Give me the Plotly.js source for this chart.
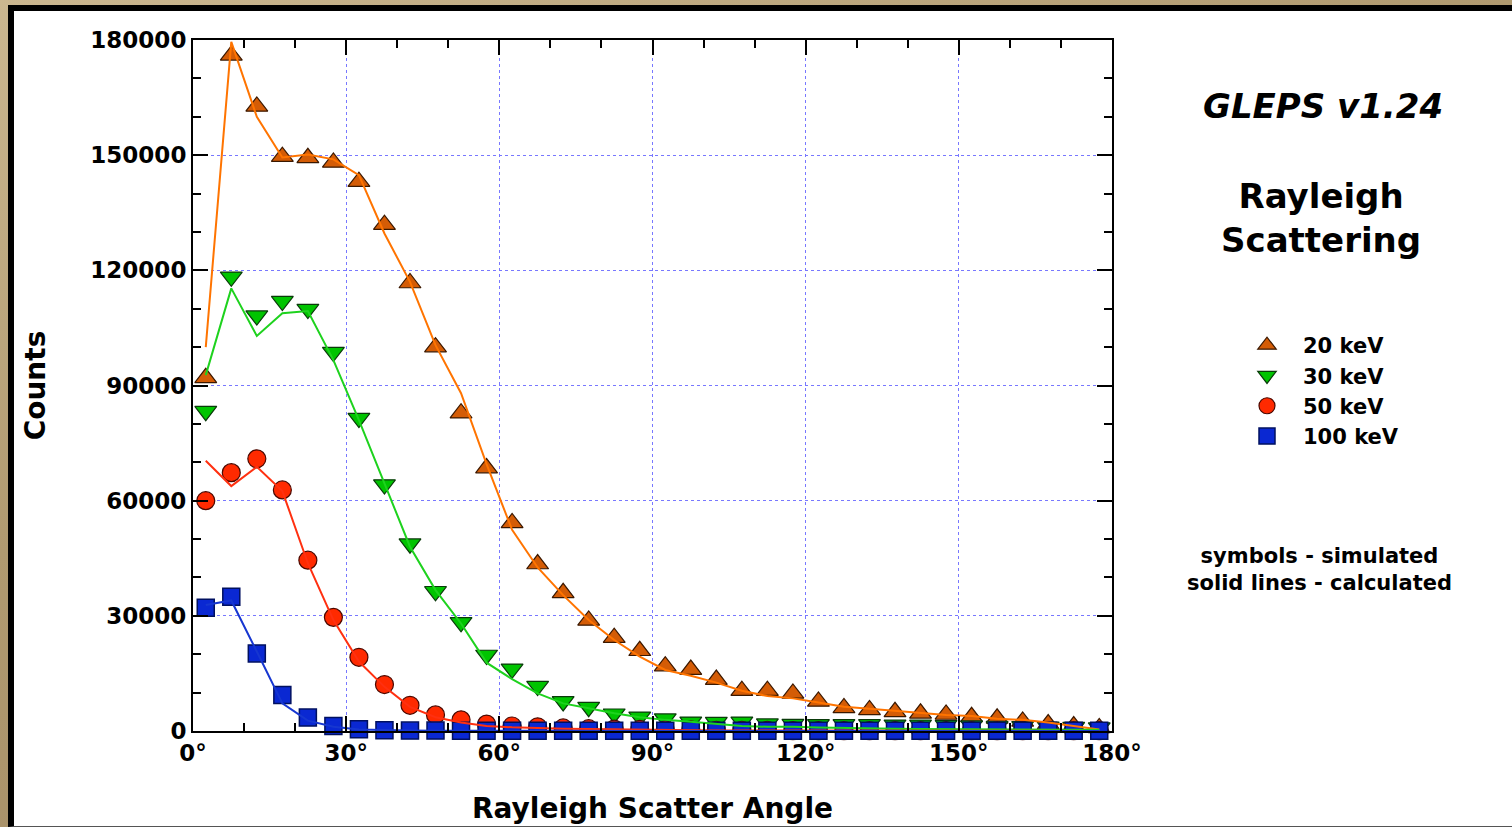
<!DOCTYPE html>
<html>
<head>
<meta charset="utf-8">
<script src="https://cdn.plot.ly/plotly-3.0.1.min.js"></script>
<style>
  html, body { margin: 0; padding: 0; width: 1512px; height: 827px; overflow: hidden;
    background: linear-gradient(160deg, #cbb790 0%, #b09a70 40%, #a08660 100%); }
  #frame { position: absolute; left: 8px; top: 5px; width: 1498px; height: 815px;
    border-left: 6px solid #000; border-top: 6px solid #000; border-bottom: 1px solid #555;
    background: #fff; }
  #chart { position: absolute; left: 0; top: 0; width: 1512px; height: 827px; }
</style>
</head>
<body>
<div id="frame"></div>
<div id="chart"></div>
<script>
// ---- data ----
const angles = [2.5, 7.5, 12.5, 17.5, 22.5, 27.5, 32.5, 37.5, 42.5, 47.5, 52.5, 57.5,
  62.5, 67.5, 72.5, 77.5, 82.5, 87.5, 92.5, 97.5, 102.5, 107.5, 112.5, 117.5,
  122.5, 127.5, 132.5, 137.5, 142.5, 147.5, 152.5, 157.5, 162.5, 167.5, 172.5, 177.5];

const sim20 = [92000, 176000, 162700, 149600, 149300, 148100, 143100, 131900, 116700, 100000, 82800, 68500,
  54200, 43500, 36000, 28800, 24300, 20900, 16900, 16000, 13400, 10500, 10500, 9800,
  7700, 6000, 5500, 5000, 4600, 4300, 3700, 3300, 2500, 1800, 1300, 800];
const calc20 = [100000, 179500, 160000, 149400, 150200, 148900, 144800, 129600, 117000, 100500, 88000, 69500,
  52400, 42600, 35400, 28900, 23700, 19400, 15900, 14400, 12600, 10500, 9100, 8500,
  7400, 6300, 5800, 5300, 4800, 4200, 3900, 3200, 2900, 2200, 1300, 400];

const sim30 = [83300, 118300, 108200, 112000, 109900, 98700, 81500, 64200, 48800, 36400, 28300, 19800,
  16200, 11700, 7700, 6200, 4500, 3700, 3200, 2400, 2300, 2400, 1900, 1800,
  1700, 1700, 1700, 1600, 1600, 1500, 1400, 1300, 1200, 1100, 1000, 900];
const calc30 = [92700, 115300, 102900, 108800, 109400, 96600, 81000, 64600, 48000, 36700, 28000, 17800,
  13500, 9800, 7200, 5900, 4600, 3600, 2900, 2400, 1800, 1300, 1100, 1100,
  900, 850, 700, 600, 500, 500, 500, 500, 450, 400, 350, 300];

const sim50 = [60000, 67300, 70900, 62800, 44500, 29600, 19200, 12100, 6700, 4200, 2900, 1800,
  1300, 1100, 800, 600, 500, 400, 300, 300, 200, 200, 200, 100,
  100, 100, 100, 100, 100, 100, 100, 100, 100, 100, 100, 100];
const calc50 = [70400, 63800, 68800, 62500, 43700, 28900, 18100, 11500, 6300, 3600, 2200, 1300,
  960, 700, 600, 500, 400, 300, 250, 200, 150, 120, 100, 80,
  60, 50, 40, 30, 30, 20, 20, 20, 20, 10, 10, 10];

const sim100 = [32100, 35000, 20200, 9400, 3500, 1300, 440, 200, 100, 100, 80, 60,
  50, 50, 50, 50, 50, 50, 50, 50, 50, 50, 50, 50,
  50, 50, 50, 50, 50, 50, 50, 50, 50, 50, 50, 50];
const calc100 = [32800, 34000, 20700, 7200, 2700, 1100, 400, 200, 100, 80, 60, 40,
  30, 20, 20, 10, 10, 10, 10, 10, 10, 10, 10, 10,
  10, 10, 10, 10, 10, 10, 10, 10, 10, 10, 10, 10];

const seriesNames = ['20 keV', '30 keV', '50 keV', '100 keV'];
const xTickSuffix = '°';

// ---- styling ----
const FONT = 'DejaVu Sans, Verdana, sans-serif';
const plotL = 193, plotR = 1112, plotT = 40, plotB = 731, W = 1512, H = 827;
const px = v => (v - plotL) / (plotR - plotL);
const py = v => (plotB - v) / (plotB - plotT);

const markerStyles = [
  {symbol: 'triangle-up', size: 19, color: '#d45c06', line: {color: '#3a1800', width: 1.2}},
  {symbol: 'triangle-down', size: 19, color: '#00c400', line: {color: '#0a3a0a', width: 1.2}},
  {symbol: 'circle', size: 18, color: '#ff2a00', line: {color: '#4a0800', width: 1.2}},
  {symbol: 'square', size: 17, color: '#0a28d2', line: {color: '#001060', width: 1.5}}
];
const lineColors = ['#ff7400', '#1ed21e', '#ff3010', '#1636d0'];

const simSets = [sim20, sim30, sim50, sim100];
const calcSets = [calc20, calc30, calc50, calc100];

const traces = [];
simSets.forEach((ys, i) => traces.push({
  x: angles, y: ys, type: 'scatter', mode: 'markers', name: seriesNames[i],
  marker: markerStyles[i], showlegend: true, cliponaxis: false
}));
calcSets.forEach((ys, i) => traces.push({
  x: angles, y: ys, type: 'scatter', mode: 'lines', name: seriesNames[i] + ' calc',
  line: {color: lineColors[i], width: 2}, showlegend: false
}));

const axisCommon = {
  showline: true, linecolor: '#000', linewidth: 2, mirror: 'allticks',
  ticks: 'inside', ticklen: 15, tickwidth: 2, tickcolor: '#000',
  showgrid: true, gridcolor: '#7878ff', griddash: 'dot', gridwidth: 1,
  zeroline: false,
  tickfont: {family: FONT, size: 23, color: '#000', weight: 'bold'}
};

const layout = {
  width: W, height: H,
  paper_bgcolor: 'rgba(0,0,0,0)', plot_bgcolor: '#fff',
  margin: {l: plotL, r: W - plotR, t: plotT, b: H - plotB, pad: 0},
  xaxis: Object.assign({}, axisCommon, {
    range: [0, 180], tick0: 0, dtick: 30, ticksuffix: xTickSuffix,
    minor: {tick0: 0, dtick: 10, ticks: 'inside', ticklen: 8, tickwidth: 1.5, tickcolor: '#000', showgrid: false},
    title: {text: 'Rayleigh Scatter Angle', font: {family: FONT, size: 28, color: '#000', weight: 'bold'}, standoff: 34}
  }),
  yaxis: Object.assign({}, axisCommon, {
    range: [0, 180000], tick0: 0, dtick: 30000, tickformat: 'd',
    minor: {tick0: 0, dtick: 10000, ticks: 'inside', ticklen: 8, tickwidth: 1.5, tickcolor: '#000', showgrid: false},
    title: {text: 'Counts', font: {family: FONT, size: 28, color: '#000', weight: 'bold'}, standoff: 37}
  }),
  showlegend: true,
  legend: {
    x: px(1231), y: py(325), xanchor: 'left', yanchor: 'top',
    bgcolor: 'rgba(0,0,0,0)', borderwidth: 0, tracegroupgap: 0, itemwidth: 62,
    font: {family: FONT, size: 21, color: '#000', weight: 'bold'}
  },
  annotations: [
    {xref: 'paper', yref: 'paper', x: px(1323), y: py(106), xanchor: 'center', yanchor: 'middle',
     showarrow: false, text: '<b><i>GLEPS v1.24</i></b>',
     font: {family: FONT, size: 34, color: '#000'}},
    {xref: 'paper', yref: 'paper', x: px(1321), y: py(218), xanchor: 'center', yanchor: 'middle',
     showarrow: false, text: '<b>Rayleigh<br>Scattering</b>',
     font: {family: FONT, size: 34, color: '#000'}},
    {xref: 'paper', yref: 'paper', x: px(1319), y: py(569), xanchor: 'center', yanchor: 'middle',
     showarrow: false, text: '<b>symbols - simulated<br>solid lines - calculated</b>',
     font: {family: FONT, size: 21, color: '#000'}}
  ]
};

Plotly.newPlot('chart', traces, layout, {displayModeBar: false, responsive: false});
</script>
</body>
</html>
